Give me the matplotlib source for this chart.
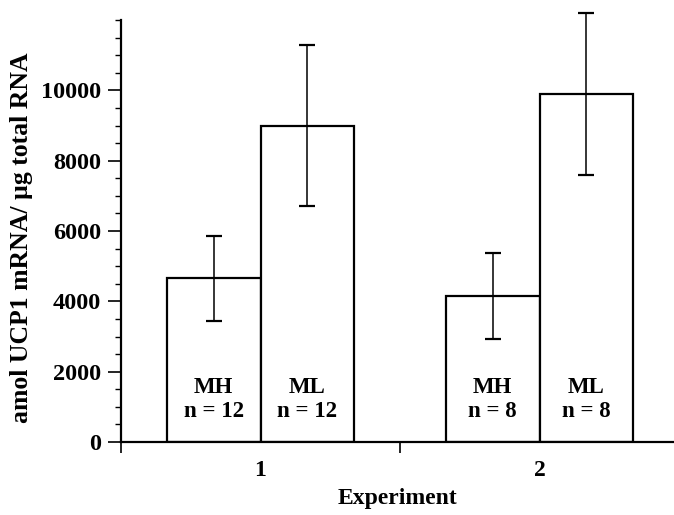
import matplotlib

matplotlib.use("Agg")
import matplotlib.pyplot as plt
from matplotlib.ticker import MultipleLocator

# values (amol UCP1 mRNA / ug total RNA)
experiments = ["1", "2"]
groups = ["MH", "ML"]
n_per_group = [[12, 12], [8, 8]]
means = {"MH": [4650, 4160], "ML": [9000, 9900]}
errors = {"MH": [1210, 1220], "ML": [2280, 2310]}

plt.rcParams["font.family"] = ["Liberation Serif", "DejaVu Serif"]
plt.rcParams["font.weight"] = "bold"

fig = plt.figure(figsize=(6.74, 5.15), dpi=100)
ax = fig.add_axes([121 / 674, 73 / 515, 553 / 674, 422 / 515])

width = 0.335
centers = [0.5, 1.5]
offsets = {"MH": -width / 2, "ML": width / 2}
for gi, g in enumerate(groups):
    xs = [c + offsets[g] for c in centers]
    ax.bar(xs, means[g], width=width, color="white", edgecolor="black",
           linewidth=1.6, zorder=2)
    ax.errorbar(xs, means[g], yerr=errors[g], fmt="none", ecolor="black",
                elinewidth=1.1, capsize=5.5, capthick=1.6, clip_on=False,
                zorder=3)
    for ei, x in enumerate(xs):
        ax.text(x, 1560, g, ha="center", va="center", fontsize=16.5,
                fontweight="bold")
        ax.text(x, 880, f"n = {n_per_group[ei][gi]}", ha="center",
                va="center", fontsize=16.5, fontweight="bold")

ax.set_xlim(0, 553 / 279)
ax.set_ylim(0, 12000)
ax.spines["top"].set_visible(False)
ax.spines["right"].set_visible(False)
ax.spines["left"].set_linewidth(1.6)
ax.spines["bottom"].set_linewidth(1.6)
ax.spines["left"].set_zorder(4)

ax.set_yticks(range(0, 10001, 2000))
ax.yaxis.set_minor_locator(MultipleLocator(500))
ax.tick_params(axis="y", which="major", direction="out", length=9.5,
               width=1.2, labelsize=17.5, pad=5)
ax.tick_params(axis="y", which="minor", direction="out", length=4.5, width=1)

ax.set_xticks([0, 1])
ax.set_xticklabels([])
ax.set_xticks(centers, minor=True)
ax.set_xticklabels(experiments, minor=True)
ax.tick_params(axis="x", which="major", direction="out", length=8, width=1.2)
ax.tick_params(axis="x", which="minor", length=0, labelsize=17, pad=13)
for lab in ax.get_yticklabels() + ax.get_xticklabels(minor=True):
    lab.set_fontweight("bold")

ax.set_xlabel("Experiment", fontsize=17, fontweight="bold", labelpad=5)
ax.set_ylabel("amol UCP1 mRNA/ µg total RNA", fontsize=18.5,
              fontweight="bold")
ax.yaxis.set_label_coords(-0.16, 0.485)

fig.savefig("out.png", dpi=100)
